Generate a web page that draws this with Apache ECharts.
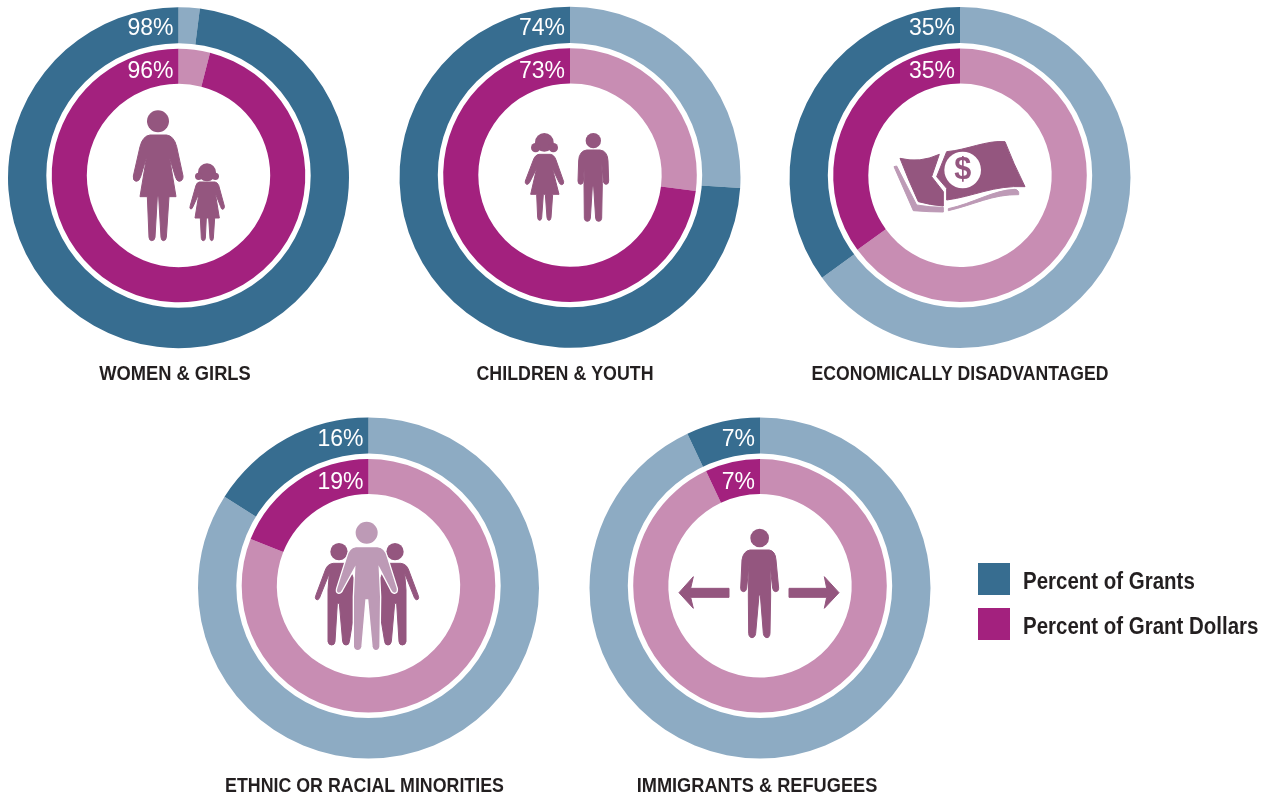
<!DOCTYPE html>
<html><head><meta charset="utf-8">
<script src="https://cdn.jsdelivr.net/npm/echarts@6/dist/echarts.min.js"></script>
<style>html,body{margin:0;padding:0;background:#fff}#c{width:1274px;height:799px}</style>
</head><body><div id="c"></div>
<script>
const categories = ['WOMEN & GIRLS','CHILDREN & YOUTH','ECONOMICALLY DISADVANTAGED','ETHNIC OR RACIAL MINORITIES','IMMIGRANTS & REFUGEES'];
const percentOfGrants = [98,74,35,16,7];
const percentOfGrantDollars = [96,73,35,19,7];
const legendNames = ['Percent of Grants','Percent of Grant Dollars'];

const centers = [[178.5,177.7],[570,177.3],[960,177.5],[368.5,588],[760,588]];
const titlePos = [[175,374],[565,374],[960,374],[364.5,786],[757,786]];
const titleSqueeze = [.915,.89,.88,.89,.91];
const C = {blue:'#376D90',lblue:'#8DABC3',mag:'#A3217E',lmag:'#C88DB3',icon:'#94567F',iconL:'#BD9AB6',text:'#231F20'};
const sans = '"Liberation Sans",sans-serif';

const pieBase = {type:'pie', startAngle:90, clockwise:true, silent:true, animation:false,
  label:{show:false}, labelLine:{show:false}, emphasis:{disabled:true}, itemStyle:{borderWidth:0}};
const ring = (center, vals, i, radius, dark, light, name) => ({...pieBase, center, radius,
  data:[
    {value:100-vals[i], name:'Remainder', itemStyle:{color:light}},
    {value:vals[i], name, itemStyle:{color:dark}}
  ]});

const series = [];
categories.forEach((_,i)=>{
  const [cx,cy] = centers[i];
  const inner = [cx, cy-2.2];
  series.push(ring([cx,cy], percentOfGrants, i, [100,170.5], C.blue, C.lblue, legendNames[0]));
  series.push({...pieBase, center:inner, radius:[0,132.2], data:[{value:1, name:'gap', itemStyle:{color:'#fff'}}]});
  series.push(ring(inner, percentOfGrantDollars, i, [91.7,126.8], C.mag, C.lmag, legendNames[1]));
});

// icons: traced in a 3x local frame, then scaled down
const thick = 3;
const p = (d, fill) => ({type:'path', shape:{pathData:d}, style:{fill, stroke:fill, lineWidth:thick, lineJoin:'round'}});
const c = (cx,cy,r,fill) => ({type:'circle', shape:{cx,cy,r}, style:{fill}});
const frame = (x,y,children) => ({type:'group', x, y, scaleX:1/3, scaleY:1/3, children});
const girl = 'M298 546H345Q352 547 356 556L373 618Q374 627 368 628Q364 628 362 620L346 580L358 654H344L340 715Q339 722 335 722Q331 722 330 715L326 654H319L316 715Q315 722 310 722Q305 722 304 715L301 654H285L297 580L279 620Q276 628 272 627Q268 625 271 616L288 556Q291 547 298 546Z';
const icons = [
  frame(100,0,[
    c(174,364,33,C.icon),
    p('M150 405H200Q222 408 230 440L249 528Q250 542 238 544Q230 544 226 530L208 470L228 590H207L199 712Q198 722 190 722Q184 722 183 712L176 590H172L165 712Q164 722 155 722Q148 722 147 712L142 590H120L140 470L122 530Q118 544 108 544Q98 542 100 528L120 440Q128 408 150 405Z',C.icon),
    c(321,517,27,C.icon),c(296,529,11,C.icon),c(346,529,11,C.icon),
    p(girl,C.icon)
  ]),
  frame(515,125,[
    c(88,52,28,C.icon),c(62,68,14,C.icon),c(115,68,14,C.icon),
    p('M72 88H106Q118 90 123 105L146 170Q147 178 140 179Q135 179 132 172L112 130L132 208H113L108 278Q107 286 102 286Q97 286 96 278L91 208H85L80 278Q79 286 74 286Q69 286 68 278L65 208H47L65 130L44 172Q40 179 35 178Q29 176 31 168L55 105Q60 90 72 88Z',C.icon),
    c(235,47,23,C.icon),
    p('M215 75H255Q278 78 279 108L281 168Q281 178 273 178Q266 178 265 168L260 110L262 175L260 280Q259 289 251 289Q243 289 242 280L236 185H232L226 280Q225 289 217 289Q209 289 208 280L207 175L209 110L205 168Q204 178 197 178Q189 178 189 168L191 108Q192 78 215 75Z',C.icon)
  ]),
  frame(880,120,[
    p('M42 140L50 138L110 255Q150 262 190 262V276Q150 276 100 272Z',C.iconL),
    p('M205 266C280 250 340 210 405 208Q418 210 416 224C340 222 280 255 205 272Z',C.iconL),
    p('M60 115Q120 130 178 103L155 170L190 215V258Q150 255 115 245Q85 180 60 115Z',C.icon),
    p('M200 95C260 90 320 60 375 65Q400 130 435 200C340 195 280 230 200 240V205L170 170Z',C.icon),
    c(248,150,55,'#fff'),
    {type:'text', x:248, y:153, style:{text:'$', fill:C.icon, font:'bold 92px '+sans, align:'center', verticalAlign:'middle'}}
  ]),
  frame(300,510,[
    c(117,125,26,C.icon),
    p('M100 160H140L170 225V260L148 395Q147 405 138 405Q130 405 128 395L118 280H112L105 395Q104 405 95 405Q86 405 84 395L84 240L88 190L58 265Q54 272 48 268Q44 264 48 255L76 180Q82 162 100 160Z',C.icon),
    c(285,125,26,C.icon),
    p('M302 160H262L232 225V260L254 395Q255 405 264 405Q272 405 274 395L284 280H290L297 395Q298 405 307 405Q316 405 318 395L318 240L314 190L344 265Q348 272 354 268Q358 264 354 255L326 180Q320 162 302 160Z',C.icon),
    c(200,68,33,C.iconL),
    {type:'path', shape:{pathData:'M168 110H232Q255 112 262 140L292 235Q294 248 284 250Q276 250 272 240L238 175L242 260L240 410Q238 422 228 422Q218 422 216 410L203 270H198L186 410Q184 422 173 422Q162 422 160 410L160 260L164 175L128 240Q124 250 116 250Q106 248 110 235L140 140Q147 112 168 110Z'}, style:{fill:C.iconL, stroke:'#fff', lineWidth:4}}
  ]),
  frame(670,520,[
    c(269,54,28,C.icon),
    p('M240 90H298Q316 93 318 120L326 205Q326 215 317 215Q310 215 308 205L300 135L302 225L300 340Q299 353 291 353Q282 353 280 340L271 225H267L257 340Q255 353 246 353Q237 353 236 340L235 225L237 135L230 205Q228 215 221 215Q212 215 212 205L216 120Q220 93 240 90Z',C.icon),
    p('M177 205V232H62L70 265L27 218L70 170L62 205Z',C.icon),
    p('M357 205V232H470L463 265L507 218L463 170L470 205Z',C.icon)
  ])
];
series.push({type:'custom', coordinateSystem:'none', silent:true, animation:false, z:5, data:[[0]],
  renderItem:()=>({type:'group', children:icons})});

const label = (text,x,y,font,fill,align,scaleX=1) => ({type:'text', z:10, silent:true, x, y, scaleX,
  style:{text, fill, font, textAlign:align, textVerticalAlign:'middle'}});
const pct = '23px '+sans;
const titleFont = 'bold 20px '+sans;
const legendFont = 'bold 23px '+sans;
const legendColors = [C.blue, C.mag];
const legendRows = [563, 608];

const option = {
  backgroundColor:'#fff', animation:false, series,
  graphic:{elements:[
    ...percentOfGrants.map((v,i)=>label(v+'%',centers[i][0]-5,centers[i][1]-148.7,pct,'#fff','right')),
    ...percentOfGrantDollars.map((v,i)=>label(v+'%',centers[i][0]-5,centers[i][1]-105.7,pct,'#fff','right')),
    ...categories.map((t,i)=>label(t,titlePos[i][0],titlePos[i][1],titleFont,C.text,'center',titleSqueeze[i])),
    ...legendNames.flatMap((n,i)=>[
      {type:'rect', silent:true, z:10, shape:{x:978,y:legendRows[i],width:32,height:32}, style:{fill:legendColors[i]}},
      label(n,1023,legendRows[i]+20,legendFont,C.text,'left',.89)
    ])
  ]}
};
echarts.init(document.getElementById('c'),null,{renderer:'canvas'}).setOption(option);
</script></body></html>
